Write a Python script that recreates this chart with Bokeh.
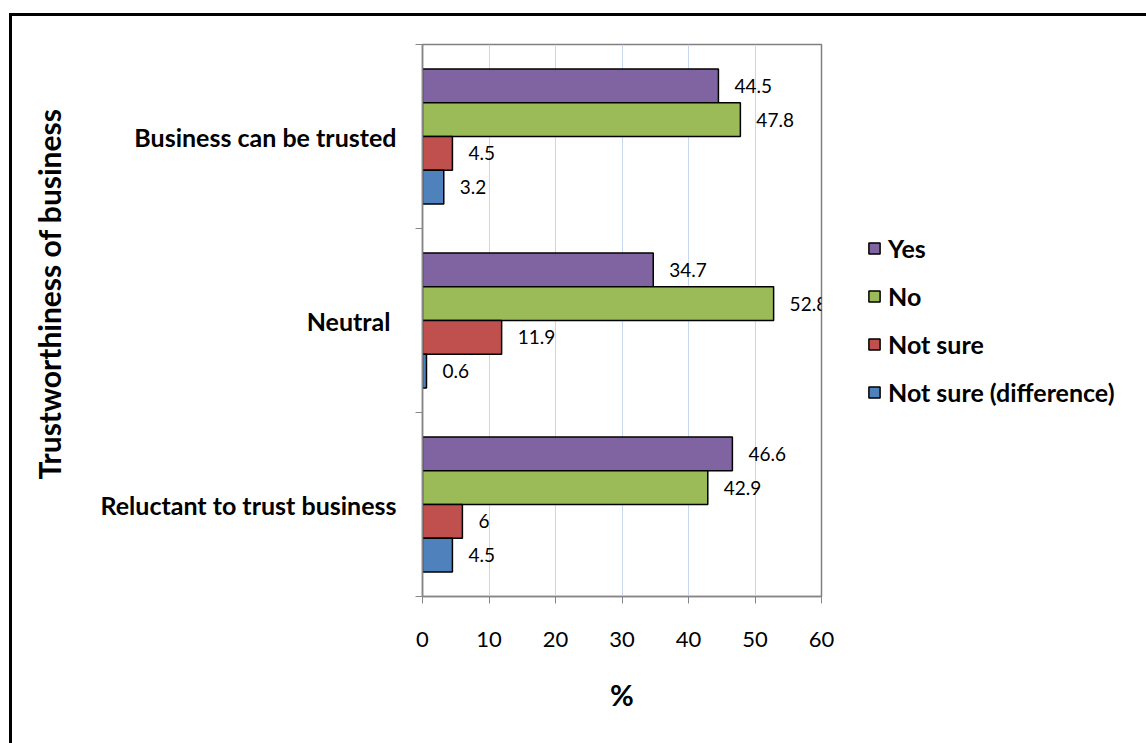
from bokeh.plotting import figure
from bokeh.models import (Range1d, FixedTicker, Legend, LegendItem, LabelSet,
                          ColumnDataSource, Title, InlineStyleSheet)
from bokeh.core.properties import value
from bokeh.transform import dodge
from bokeh.embed import file_html
from bokeh.resources import INLINE

# ---- data ----
categories = ["Business can be trusted", "Neutral ", "Reluctant to trust business"]
series = ["Yes", "No", "Not sure", "Not sure (difference)"]
yes = [44.5, 34.7, 46.6]
no = [47.8, 52.8, 42.9]
not_sure = [4.5, 11.9, 6]
not_sure_diff = [3.2, 0.6, 4.5]
x_ticks = [0, 10, 20, 30, 40, 50, 60]
colors = ["#8064A2", "#9BBB59", "#C0504D", "#4F81BD"]

values = [yes, no, not_sure, not_sure_diff]
n = len(categories)
pos = [n - i - 0.5 for i in range(n)]
bounds = list(range(n + 1))

FONT = "Lato"

p = figure(frame_width=399, frame_height=552,
           x_range=Range1d(0, 60), y_range=Range1d(0, n),
           output_backend="svg", toolbar_location=None,
           min_border_left=422, min_border_right=325, min_border_top=44,
           min_border_bottom=147)
p.background_fill_color = "white"
p.border_fill_color = "white"
p.outline_line_color = "#808080"
p.outline_line_width = 1.5

# outer black frame (top and left edges visible; the rest lies outside the picture)
p.stylesheets = [InlineStyleSheet(css="""
:host { position: relative; }
:host::after { content: ''; position: absolute; left: 9px; top: 13px; right: 0; bottom: 0;
  border-left: 3px solid black; border-top: 3px solid black; pointer-events: none; }
""")]

# grid
p.ygrid.grid_line_color = None
p.xgrid.grid_line_color = "#c8d6ee"
p.xgrid.grid_line_width = 1
p.xgrid.ticker = FixedTicker(ticks=x_ticks)

# x axis
xa = p.xaxis[0]
xa.ticker = FixedTicker(ticks=x_ticks)
xa.axis_line_color = "#868686"
xa.axis_line_width = 1.5
xa.major_tick_line_color = "#868686"
xa.major_tick_out = 7
xa.major_tick_in = 0
xa.minor_tick_line_color = None
xa.major_label_text_font = FONT
xa.major_label_text_font_size = "22px"
xa.major_label_text_color = "black"
xa.major_label_standoff = 28
xa.axis_label = "%"
xa.axis_label_text_font = FONT
xa.axis_label_text_font_style = "bold"
xa.axis_label_text_font_size = "29px"
xa.axis_label_text_color = "black"
xa.axis_label_standoff = 27

# y axis
ya = p.yaxis[0]
ya.ticker = FixedTicker(ticks=pos, minor_ticks=bounds)
ya.major_label_overrides = {pv: c for pv, c in zip(pos, categories)}
ya.axis_line_color = "#868686"
ya.axis_line_width = 1.5
ya.major_tick_line_color = None
ya.major_tick_out = 0
ya.major_tick_in = 0
ya.minor_tick_line_color = "#868686"
ya.minor_tick_out = 7
ya.minor_tick_in = 0
ya.major_label_text_font = FONT
ya.major_label_text_font_style = "bold"
ya.major_label_text_font_size = "25px"
ya.major_label_text_color = "black"
ya.major_label_standoff = 19

offsets = [0.275, 0.0917, -0.0917, -0.275]
bar_h = 0.1834

items = []
for name, vals, col, off in zip(series, values, colors, offsets):
    src = ColumnDataSource(dict(pos=pos, val=vals, txt=[f"{v:g}" for v in vals]))
    r = p.hbar(y=dodge("pos", off), right="val", left=0, height=bar_h, source=src,
               fill_color=col, line_color="black", line_width=1.5)
    items.append(LegendItem(label=name, renderers=[r]))
    lbl = LabelSet(x="val", y=dodge("pos", off), text="txt", source=src,
                   x_offset=16, text_baseline="middle", text_align="left",
                   text_font=value(FONT), text_font_size="19px", text_color="black")
    p.add_layout(lbl)

legend = Legend(items=items, location=(46, 189))
legend.label_text_font = FONT
legend.label_text_font_style = "bold"
legend.label_text_font_size = "25px"
legend.label_text_color = "black"
legend.glyph_width = 14
legend.glyph_height = 14
legend.label_height = 30
legend.spacing = 18
legend.label_standoff = 7
legend.padding = 0
legend.margin = 0
legend.border_line_color = None
legend.background_fill_alpha = 0
p.add_layout(legend, "right")

# y title
ytitle = Title(text="Trustworthiness of business", align="right", offset=64,
               vertical_align="top", standoff=58,
               text_font=FONT, text_font_style="bold", text_font_size="30px",
               text_color="black")
p.add_layout(ytitle, "left")

open("out.html", "w").write(file_html(p, INLINE))
